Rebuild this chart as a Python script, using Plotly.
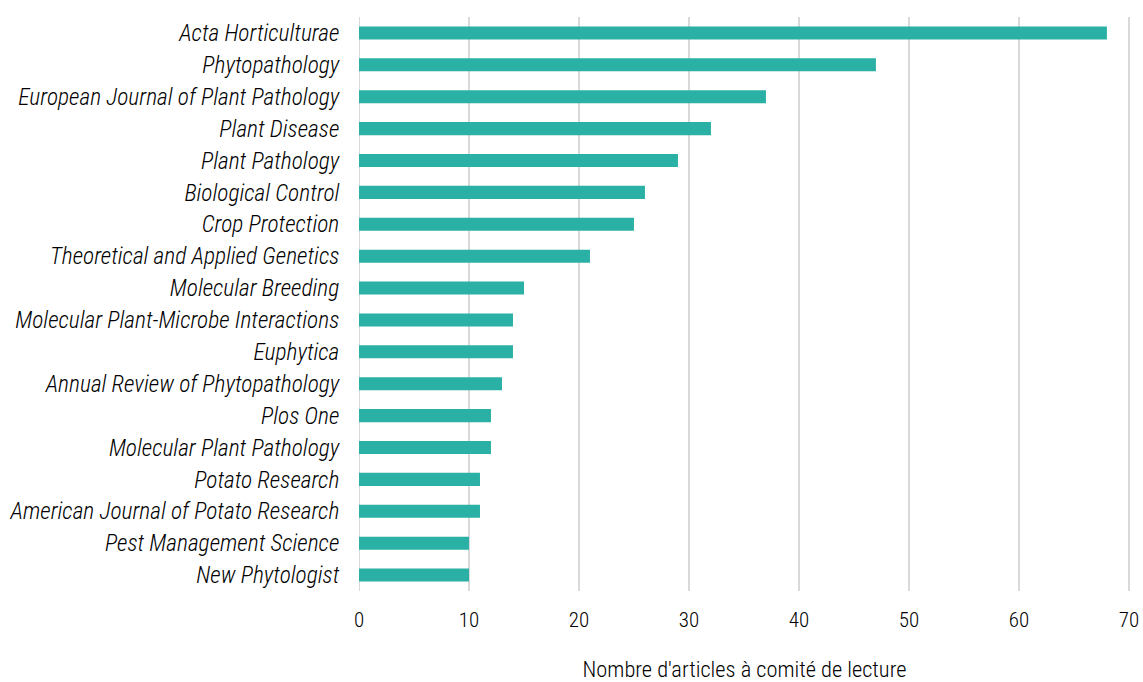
import plotly.graph_objects as go

journals = ["Acta Horticulturae", "Phytopathology", "European Journal of Plant Pathology",
            "Plant Disease", "Plant Pathology", "Biological Control", "Crop Protection",
            "Theoretical and Applied Genetics", "Molecular Breeding",
            "Molecular Plant-Microbe Interactions", "Euphytica",
            "Annual Review of Phytopathology", "Plos One", "Molecular Plant Pathology",
            "Potato Research", "American Journal of Potato Research",
            "Pest Management Science", "New Phytologist"]
articles = [68, 47, 37, 32, 29, 26, 25, 21, 15, 14, 14, 13, 12, 12, 11, 11, 10, 10]

font_family = "Liberation Sans Narrow, Arial Narrow, Roboto Condensed, Liberation Sans, Arial, sans-serif"

fig = go.Figure(go.Bar(
    x=articles, y=journals, orientation="h",
    marker=dict(color="#2ab0a4", line=dict(width=0)),
))
fig.update_layout(
    width=1143, height=682,
    margin=dict(l=359, r=13, t=17, b=91),
    plot_bgcolor="white", paper_bgcolor="white",
    bargap=0.59, showlegend=False,
    font=dict(family=font_family, color="#000000", size=23, weight=300),
)
fig.update_xaxes(
    range=[0, 70.1], tickvals=[0, 10, 20, 30, 40, 50, 60, 70], automargin=False,
    showgrid=True, gridcolor="#d9d9d9", gridwidth=2,
    zeroline=False, showline=False, ticks="outside", ticklen=10, tickcolor="rgba(0,0,0,0)",
    tickfont=dict(size=21, weight=300),
    title=dict(text="Nombre d'articles à comité de lecture", font=dict(size=22.4, weight=300), standoff=37),
)
fig.update_yaxes(
    autorange="reversed", showgrid=False, zeroline=False, showline=False, automargin=False,
    ticks="outside", ticklen=14, tickcolor="rgba(0,0,0,0)",
    tickfont=dict(size=23.4, style="italic", weight=300),
)
fig.add_shape(type="line", xref="x", yref="paper", x0=0, x1=0, y0=0, y1=1,
              line=dict(color="#d9d9d9", width=2), layer="below")
fig.write_html("out.html", config={"displayModeBar": False},
               post_script="document.body.style.margin='0';document.body.style.overflow='hidden';")
